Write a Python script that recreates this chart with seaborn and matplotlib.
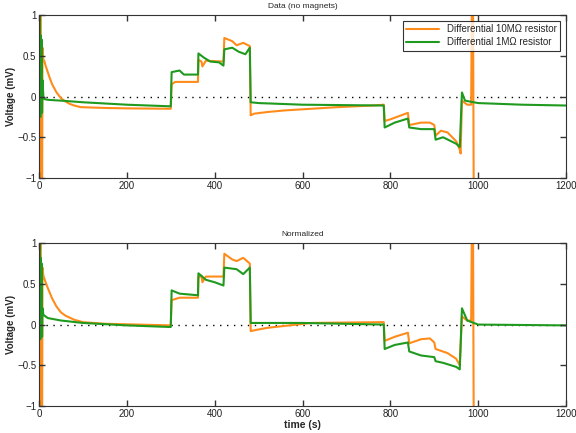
import pandas as pd
import seaborn as sns
import matplotlib.pyplot as plt

# time (s) and voltage (mV) breakpoints
t_raw10 = [0, 1, 2, 4, 5, 7, 8, 10, 12, 15, 20, 25, 30, 40, 50, 60, 70, 80, 95, 150, 200, 300,
           302, 310, 362, 363, 370, 372, 380, 420, 422, 440, 450, 465, 480,
           482, 490, 520, 560, 620, 680, 760, 785, 787, 800, 840, 843, 870, 890, 900,
           903, 915, 930, 950, 958, 960, 963, 975, 984, 986, 988, 990, 992]
v_raw10 = [-0.3, -1.5, 1.5, 1.5, -1.5, -1.5, 0.6, 0.45, 0.44, 0.38, 0.3, 0.22, 0.15, 0.05, -0.02, -0.06, -0.09, -0.11, -0.13, -0.14, -0.145, -0.15,
           0.15, 0.18, 0.18, 0.45, 0.43, 0.37, 0.44, 0.43, 0.72, 0.68, 0.63, 0.66, 0.62,
           -0.23, -0.21, -0.19, -0.17, -0.15, -0.13, -0.11, -0.1, -0.3, -0.28, -0.2, -0.35, -0.32, -0.32, -0.35,
           -0.48, -0.42, -0.44, -0.55, -0.65, -0.7, -0.05, -0.1, -0.1, 1.5, 1.5, -1.5, -1.5]

t_raw1 = [0, 2, 3, 4, 5, 6, 7, 8, 10, 12, 20, 50, 100, 200, 300,
          302, 320, 330, 362, 363, 375, 390, 410, 420, 422, 440, 455, 470, 480,
          482, 500, 600, 785, 787, 810, 840, 843, 870, 900,
          903, 920, 950, 958, 963, 970, 1000, 1100, 1200]
v_raw1 = [0.0, 1.0, -0.25, 0.75, 0.3, 0.7, -0.2, 0.2, 0.0, -0.03, -0.04, -0.05, -0.07, -0.1, -0.12,
          0.3, 0.32, 0.27, 0.27, 0.53, 0.48, 0.43, 0.42, 0.38, 0.58, 0.6, 0.55, 0.52, 0.6,
          -0.07, -0.08, -0.1, -0.11, -0.38, -0.32, -0.27, -0.38, -0.4, -0.4,
          -0.53, -0.5, -0.58, -0.62, 0.05, -0.05, -0.08, -0.1, -0.11]

t_norm10 = [0, 1, 2, 4, 5, 7, 8, 10, 15, 20, 30, 40, 50, 60, 80, 100, 150, 300,
            302, 320, 362, 363, 370, 372, 380, 420, 422, 440, 450, 465, 480,
            482, 500, 520, 570, 620, 785, 787, 810, 840, 843, 870, 890, 900,
            903, 930, 950, 958, 963, 975, 984, 986, 988, 990, 992]
v_norm10 = [-0.3, -1.5, 1.5, 1.5, -1.5, -1.5, 0.7, 0.6, 0.52, 0.45, 0.32, 0.22, 0.15, 0.11, 0.06, 0.03, 0.01, -0.01,
            0.3, 0.33, 0.33, 0.58, 0.6, 0.52, 0.59, 0.59, 0.87, 0.8, 0.78, 0.82, 0.75,
            -0.08, -0.06, -0.04, -0.01, 0.02, 0.03, -0.2, -0.15, -0.1, -0.23, -0.18, -0.17, -0.22,
            -0.3, -0.35, -0.42, -0.5, 0.1, 0.05, 0.05, 1.5, 1.5, -1.5, -1.5]

t_norm1 = [0, 2, 3, 4, 5, 6, 7, 8, 10, 20, 50, 100, 200, 300,
           302, 320, 362, 363, 380, 400, 420, 422, 450, 465, 480,
           482, 600, 785, 787, 810, 840, 843, 870, 900,
           903, 920, 950, 958, 963, 975, 1000, 1200]
v_norm1 = [0.0, 1.0, -0.18, 0.82, 0.3, 0.75, -0.15, 0.2, 0.12, 0.08, 0.05, 0.02, -0.01, -0.03,
           0.42, 0.38, 0.36, 0.63, 0.55, 0.52, 0.48, 0.7, 0.68, 0.62, 0.7,
           0.02, 0.02, 0.0, -0.3, -0.25, -0.22, -0.33, -0.38, -0.4,
           -0.45, -0.47, -0.52, -0.55, 0.2, 0.05, 0.0, -0.01]

label10 = 'Differential 10M\u03a9 resistor'
label1 = 'Differential 1M\u03a9 resistor'
c10 = '#FF8C1A'
c1 = '#1F9A1F'

sns.set_style('ticks', {'xtick.direction': 'in', 'ytick.direction': 'in'})
plt.rcParams['font.family'] = ['Liberation Sans', 'DejaVu Sans']
plt.rcParams['axes.unicode_minus'] = True

fig = plt.figure(figsize=(5.76, 4.33), dpi=100)
ax1 = fig.add_axes([0.0677, 0.589, 0.915, 0.376])
ax2 = fig.add_axes([0.0677, 0.0624, 0.915, 0.376])

panels = [(ax1, t_raw10, v_raw10, t_raw1, v_raw1, 'Data (no magnets)'),
          (ax2, t_norm10, v_norm10, t_norm1, v_norm1, 'Normalized')]

for ax, ta, va, tb, vb, title in panels:
    ax.axhline(0, color='black', linestyle=(0, (1, 4)), linewidth=1)
    d10 = pd.DataFrame({'t': ta, 'v': va})
    d1 = pd.DataFrame({'t': tb, 'v': vb})
    sns.lineplot(data=d10, x='t', y='v', ax=ax, color=c10, linewidth=1.5,
                 sort=False, estimator=None, label=label10)
    sns.lineplot(data=d1, x='t', y='v', ax=ax, color=c1, linewidth=1.5,
                 sort=False, estimator=None, label=label1)
    ax.set_xlim(0, 1200)
    ax.set_ylim(-1, 1)
    ax.set_xticks(range(0, 1201, 200))
    ax.set_yticks([-1, -0.5, 0, 0.5, 1])
    ax.set_yticklabels(['\u22121', '\u22120.5', '0', '0.5', '1'])
    ax.set_title(title, fontsize=6, pad=5)
    ax.set_ylabel('Voltage (mV)', fontsize=7, fontweight='bold', labelpad=1)
    ax.set_xlabel('')

leg = ax1.legend(loc='upper right', fontsize=7, frameon=True, fancybox=False,
                 borderaxespad=0.6, handlelength=3.4, borderpad=0.35, labelspacing=0.3)
leg.get_frame().set_edgecolor('black')
leg.get_frame().set_linewidth(0.8)
ax2.get_legend().remove()
ax2.set_xlabel('time (s)', fontsize=7.5, fontweight='bold', labelpad=1)

# matlab-like box with inward ticks on every side, set last
for ax in (ax1, ax2):
    ax.set_axisbelow(False)
    for s in ax.spines.values():
        s.set_color('#333333')
        s.set_linewidth(0.8)
    ax.tick_params(direction='in', bottom=True, left=True, top=True, right=True,
                   labelsize=7, length=4.5, width=1, pad=2,
                   color='#333333', labelcolor='#222222')
    for tk in ax.xaxis.get_major_ticks() + ax.yaxis.get_major_ticks():
        for ln in (tk.tick1line, tk.tick2line):
            ln.set_visible(True)
            ln.set_markersize(4.5)
            ln.set_markeredgewidth(1)
            ln.set_markeredgecolor('#333333')
            ln.set_zorder(5)

fig.savefig('out.png', dpi=100)
